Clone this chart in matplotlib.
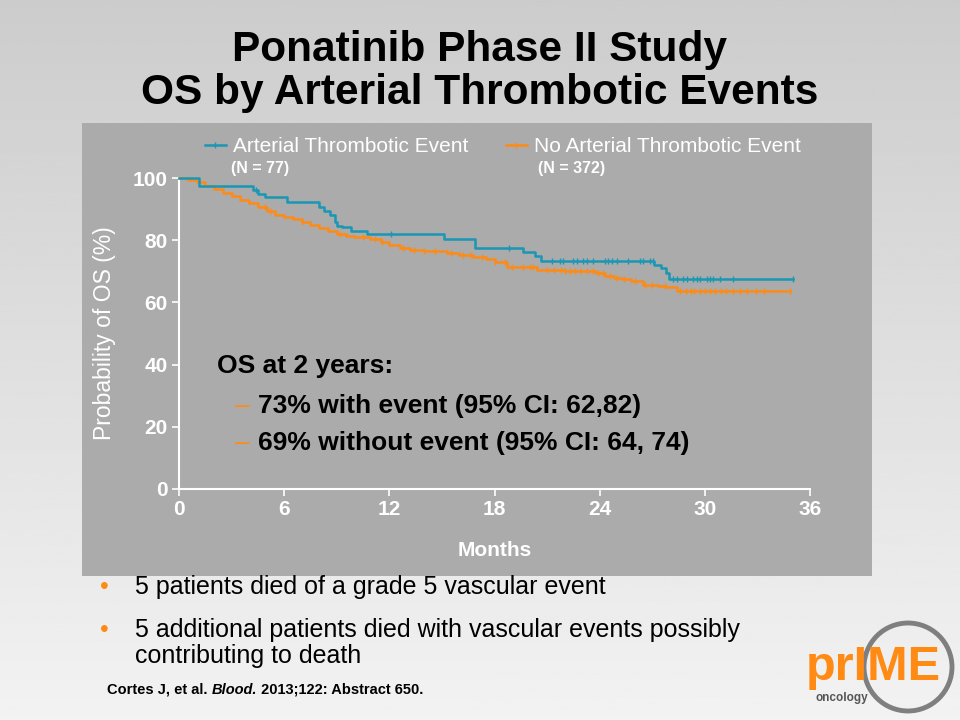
import matplotlib.pyplot as plt
import numpy as np
from matplotlib.patches import Rectangle, Ellipse
from matplotlib.lines import Line2D

plt.rcParams['font.family'] = ['Liberation Sans', 'DejaVu Sans']

# KM curve: arterial thrombotic event (N = 77)
ate_t = [0, 1.16, 4.2, 4.48, 4.9, 6.14, 8.0, 8.3, 8.6, 8.9, 9.0, 9.3, 9.8, 10.74,
         15.1, 16.9, 19.64, 20.3, 20.65, 27.1, 27.5, 27.8, 27.95, 35.04]
ate_s = [100, 97.4, 96.1, 94.8, 93.8, 92.4, 90.6, 89.5, 88.1, 86.0, 84.6, 84.1, 83.1, 82.0,
         80.4, 77.6, 76.3, 74.9, 73.4, 72.0, 71.0, 69.5, 67.5, 67.5]
ate_cens = [4.4, 12.1, 18.8, 21.26, 21.73, 21.93, 22.49, 22.69, 23.06, 23.25, 23.63, 24.3,
            24.49, 24.68, 24.97, 25.63, 26.3, 26.48, 26.86, 27.05, 28.2, 28.4, 28.77,
            28.96, 29.34, 29.53, 29.72, 30.1, 30.29, 30.48, 30.86, 31.62, 35.04]

# KM curve: no arterial thrombotic event (N = 372)
no_t = [0, 0.5, 1.0, 1.5, 2.0, 2.5, 3.0, 3.5, 4.0, 4.5, 5.0, 5.5, 6.0, 6.5, 7.0, 7.5,
        8.0, 8.5, 9.0, 9.5, 10.0, 10.9, 11.5, 12.0, 12.6, 13.2, 14.0, 15.3, 16.0, 16.8,
        17.5, 18.0, 18.7, 19.5, 20.4, 22.0, 23.8, 24.3, 24.8, 25.3, 25.8, 26.5, 27.3,
        27.8, 28.4, 34.85]
no_s = [100, 99.5, 98.6, 97.5, 96.4, 95.2, 94.2, 93.0, 92.0, 90.8, 89.3, 88.2, 87.5, 86.8,
        85.9, 84.9, 83.9, 83.0, 82.1, 81.5, 81.0, 80.4, 79.4, 78.6, 77.6, 76.9, 76.5, 75.8,
        75.3, 74.5, 73.8, 73.1, 71.5, 71.3, 70.3, 70.0, 69.6, 68.6, 68.0, 67.4, 66.8, 65.7,
        65.2, 64.9, 63.8, 63.8]
no_cens = [4.9, 5.2, 7.0, 9.2, 10.5, 11.2, 11.6, 12.8, 13.4, 14.0, 14.6, 15.5, 16.2, 16.6,
           17.3, 18.0, 18.6, 19.0, 19.6, 20.0, 20.2, 21.0, 21.4, 21.8, 22.0, 22.3, 22.6,
           22.9, 23.3, 23.6, 23.9, 24.2, 24.6, 25.0, 25.4, 26.0, 26.6, 27.0, 27.7, 28.6,
           28.9, 29.2, 29.4, 29.7, 30.0, 30.3, 30.6, 30.9, 31.2, 31.6, 32.0, 32.4, 32.9,
           33.4, 34.85]

xticks = [0, 6, 12, 18, 24, 30, 36]
yticks = [0, 20, 40, 60, 80, 100]

teal = '#1997b3'
orange = '#ff8a14'

fig = plt.figure(figsize=(9.6, 7.2), dpi=100)


def fx(px):
    return px / 960


def fy(py):
    return 1 - py / 720


# slide background
bg = fig.add_axes([0, 0, 1, 1], zorder=-10)
grad = np.linspace(0.80, 0.95, 256).reshape(-1, 1)
bg.imshow(grad, aspect='auto', cmap='gray', vmin=0, vmax=1, extent=[0, 1, 0, 1], origin='upper')
bg.set_xlim(0, 1)
bg.set_ylim(0, 1)
bg.axis('off')
bg.add_patch(Rectangle((fx(82), fy(576)), 790 / 960, 453 / 720,
                       transform=bg.transAxes, color='#ababab', lw=0))

# titles
fig.text(0.5, fy(50), 'Ponatinib Phase II Study', ha='center', va='center',
         fontsize=30.5, fontweight='bold')
fig.text(0.5, fy(93), 'OS by Arterial Thrombotic Events', ha='center', va='center',
         fontsize=30.5, fontweight='bold')

ax = fig.add_axes([fx(179), fy(489), 631 / 960, 311 / 720])
ax.patch.set_alpha(0)


def surv_at(t, s, x):
    idx = np.searchsorted(t, x, side='right') - 1
    return np.array(s)[idx]


ax.step(no_t, no_s, where='post', color=orange, lw=1.8, clip_on=False, zorder=3)
ax.plot(no_cens, surv_at(no_t, no_s, no_cens), '|', color=orange, ms=5, mew=1,
        clip_on=False, zorder=3)
ax.step(ate_t, ate_s, where='post', color=teal, lw=1.8, clip_on=False, zorder=4)
ax.plot(ate_cens, surv_at(ate_t, ate_s, ate_cens), '|', color=teal, ms=5, mew=1,
        clip_on=False, zorder=4)

ax.set_xlim(0, 36)
ax.set_ylim(0, 100)
ax.set_xticks(xticks)
ax.set_yticks(yticks)
for sp in ['top', 'right']:
    ax.spines[sp].set_visible(False)
for sp in ['left', 'bottom']:
    ax.spines[sp].set_color('white')
    ax.spines[sp].set_linewidth(1.5)
ax.tick_params(colors='white', length=5, width=1.2, labelsize=15, pad=3)
for lab in ax.get_xticklabels() + ax.get_yticklabels():
    lab.set_fontweight('bold')
ax.set_xlabel('Months', color='white', fontsize=15, fontweight='bold', labelpad=16)
ax.set_ylabel('Probability of OS (%)', color='white', fontsize=16.5, labelpad=12)

# legend
handles = [Line2D([], [], color=teal, lw=1.8, marker='|', ms=5),
           Line2D([], [], color=orange, lw=1.8, marker='|', ms=5)]
fig.legend(handles, ['Arterial Thrombotic Event', 'No Arterial Thrombotic Event'],
           loc='center left', bbox_to_anchor=(fx(205), fy(147)), ncol=2,
           frameon=False, fontsize=15, labelcolor='white', handlelength=1.0,
           handletextpad=0.35, columnspacing=1.8, borderpad=0, borderaxespad=0)
fig.text(fx(231), fy(169), '(N = 77)', color='white', fontsize=11.5,
         fontweight='bold', va='center')
fig.text(fx(538), fy(169), '(N = 372)', color='white', fontsize=11.5,
         fontweight='bold', va='center')

# annotation
fig.text(fx(217), fy(366), 'OS at 2 years:', fontsize=19, fontweight='bold', va='center')
for yy, txt in [(406, '73% with event (95% CI: 62,82)'),
                (443, '69% without event (95% CI: 64, 74)')]:
    fig.text(fx(235), fy(yy), '\u2013', color=orange, fontsize=19, va='center')
    fig.text(fx(258), fy(yy), txt, fontsize=19, fontweight='bold', va='center')

# bullets
for yy in [587, 630]:
    fig.text(fx(104), fy(yy), '\u2022', color=orange, fontsize=18, va='center', ha='center')
fig.text(fx(135), fy(587), '5 patients died of a grade 5 vascular event',
         fontsize=18, va='center')
fig.text(fx(135), fy(630), '5 additional patients died with vascular events possibly',
         fontsize=18, va='center')
fig.text(fx(135), fy(656), 'contributing to death', fontsize=18, va='center')

# citation, placed piece by piece
renderer = fig.canvas.get_renderer()
xpos = fx(107)
for txt, st in [('Cortes J, et al. ', 'normal'), ('Blood.', 'italic'),
                (' 2013;122: Abstract 650.', 'normal')]:
    t = fig.text(xpos, fy(690), txt, fontsize=10.5, fontweight='bold', style=st,
                 va='center')
    bb = t.get_window_extent(renderer)
    xpos = bb.x1 / fig.bbox.width

# logo
bg.add_patch(Ellipse((fx(908), fy(667)), 88 / 960, 88 / 720, transform=bg.transAxes,
                     fill=False, ec='#7f7f7f', lw=3.5))
fig.text(fx(806), fy(668), 'prIME', color=orange, fontsize=35,
         fontweight='bold', va='center')
fig.text(fx(815), fy(698), 'oncology', color='#555555', fontsize=8.5,
         fontweight='bold', va='center')

fig.savefig('out.png', dpi=100)
